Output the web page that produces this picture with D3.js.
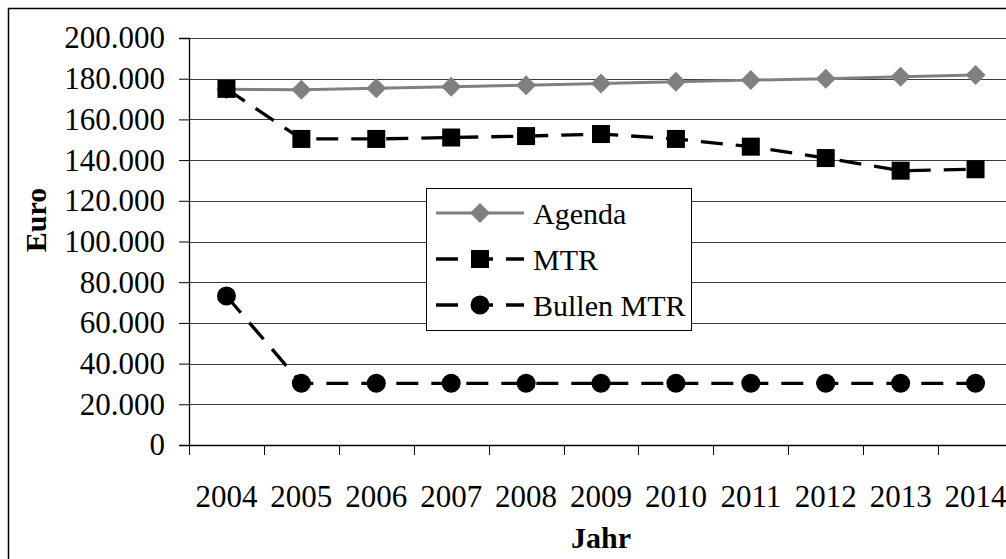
<!DOCTYPE html>
<html>
<head>
<meta charset="utf-8">
<script src="https://cdn.jsdelivr.net/npm/d3@7/dist/d3.min.js"></script>
<style>
  html, body { margin: 0; padding: 0; background: #fff; }
  svg { display: block; }
</style>
</head>
<body>
<svg id="chart" width="1006" height="559"></svg>
<script>
// Jahreswerte der drei Varianten (Euro)
const years = ["2004", "2005", "2006", "2007", "2008", "2009", "2010", "2011", "2012", "2013", "2014"];
const agenda = [174800, 174600, 175300, 176100, 176800, 177700, 178500, 179300, 180000, 181000, 181800];
const mtr = [175000, 150400, 150400, 151100, 151800, 152800, 150400, 146600, 141000, 134800, 135500];
const bullenMtr = [73200, 30300, 30300, 30300, 30300, 30300, 30300, 30300, 30300, 30300, 30300];
const yTicks = [0, 20000, 40000, 60000, 80000, 100000, 120000, 140000, 160000, 180000, 200000];

const series = [
  { name: "Agenda", values: agenda, color: "#808080", dash: null, marker: "diamond" },
  { name: "MTR", values: mtr, color: "#000", dash: "22,13", marker: "square" },
  { name: "Bullen MTR", values: bullenMtr, color: "#000", dash: "22,13", marker: "circle" }
];

const FONT = '"Liberation Serif", "Times New Roman", "DejaVu Serif", serif';

const svg = d3.select("#chart");
const plot = { left: 189, right: 1013, top: 38, bottom: 445 };

const x = d3.scaleBand().domain(years).range([plot.left, plot.right]);
const y = d3.scaleLinear().domain([0, 200000]).range([plot.bottom, plot.top]);
const de = d3.formatLocale({ decimal: ",", thousands: ".", grouping: [3], currency: ["", " €"] });
const fmt = de.format(",");
const cx = d => x(d) + x.bandwidth() / 2;

// outer chart frame (runs past the right and bottom edges of the canvas)
svg.append("rect")
  .attr("x", 8.5).attr("y", 8.5).attr("width", 1200).attr("height", 600)
  .attr("fill", "#fff").attr("stroke", "#000").attr("stroke-width", 1.5);

// horizontal gridlines
svg.append("g").selectAll("line")
  .data(yTicks.filter(v => v > 0))
  .join("line")
  .attr("x1", plot.left).attr("x2", plot.right)
  .attr("y1", d => Math.round(y(d)) + 0.5).attr("y2", d => Math.round(y(d)) + 0.5)
  .attr("stroke", "#3a3a3a").attr("stroke-width", 1);

// y axis
const yAxis = svg.append("g")
  .attr("transform", `translate(${plot.left},0)`)
  .call(d3.axisLeft(y).tickValues(yTicks).tickFormat(fmt).tickSize(10).tickPadding(14));
yAxis.attr("font-family", null);
yAxis.select(".domain").attr("stroke", "#000").attr("stroke-width", 1.3);
yAxis.selectAll(".tick line").attr("stroke", "#000");
yAxis.selectAll("text")
  .style("font-family", FONT).style("font-size", "31px").attr("fill", "#000");

// x axis: labels centred on categories, ticks on category boundaries
const xAxis = svg.append("g")
  .attr("transform", `translate(0,${plot.bottom})`)
  .call(d3.axisBottom(x).tickSize(0).tickPadding(40));
xAxis.attr("font-family", null);
xAxis.select(".domain").remove();
xAxis.selectAll("text")
  .style("font-family", FONT).style("font-size", "31px").attr("fill", "#000");
svg.append("line")
  .attr("x1", plot.left).attr("x2", plot.right)
  .attr("y1", plot.bottom + 0.5).attr("y2", plot.bottom + 0.5)
  .attr("stroke", "#000").attr("stroke-width", 1.3);
const bounds = years.map(d => x(d)).concat([x(years[years.length - 1]) + x.step()]);
svg.append("g").selectAll("line")
  .data(bounds)
  .join("line")
  .attr("x1", d => Math.round(d) + 0.5).attr("x2", d => Math.round(d) + 0.5)
  .attr("y1", plot.bottom).attr("y2", plot.bottom + 10)
  .attr("stroke", "#000").attr("stroke-width", 1);

// axis titles
svg.append("text")
  .attr("transform", "translate(46,220) rotate(-90)")
  .attr("text-anchor", "middle")
  .style("font-family", FONT).style("font-size", "30px").style("font-weight", "bold")
  .text("Euro");
svg.append("text")
  .attr("x", (plot.left + plot.right) / 2).attr("y", 548)
  .attr("text-anchor", "middle")
  .style("font-family", FONT).style("font-size", "30px").style("font-weight", "bold")
  .text("Jahr");

// markers
function drawMarker(g, type, color) {
  if (type === "diamond") {
    g.append("path").attr("d", "M0,-10L10,0L0,10L-10,0Z").attr("fill", color);
  } else if (type === "square") {
    g.append("rect").attr("x", -9).attr("y", -9).attr("width", 18).attr("height", 18).attr("fill", color);
  } else {
    g.append("circle").attr("r", 9.5).attr("fill", color);
  }
}

const line = d3.line().x((d, i) => cx(years[i])).y(d => y(d));

// draw back-to-front so MTR squares cover the grey line at 2004
[series[0], series[2], series[1]].forEach(s => {
  svg.append("path")
    .datum(s.values)
    .attr("d", line)
    .attr("fill", "none")
    .attr("stroke", s.color)
    .attr("stroke-width", s.dash ? 3.3 : 3)
    .attr("stroke-dasharray", s.dash);
  svg.append("g").selectAll("g")
    .data(s.values)
    .join("g")
    .attr("transform", (d, i) => `translate(${cx(years[i])},${y(d)})`)
    .each(function () { drawMarker(d3.select(this), s.marker, s.color); });
});

// legend
const legend = svg.append("g").attr("transform", "translate(426,188)");
legend.append("rect")
  .attr("x", 0.5).attr("y", 0.5).attr("width", 265).attr("height", 142)
  .attr("fill", "#fff").attr("stroke", "#000").attr("stroke-width", 1);
series.forEach((s, i) => {
  const row = legend.append("g").attr("transform", `translate(0,${25 + i * 46})`);
  row.append("line")
    .attr("x1", 10).attr("x2", 98)
    .attr("stroke", s.color)
    .attr("stroke-width", s.dash ? 3.3 : 3)
    .attr("stroke-dasharray", s.dash);
  drawMarker(row.append("g").attr("transform", "translate(54,0)"), s.marker, s.color);
  row.append("text")
    .attr("x", 107).attr("y", 11)
    .style("font-family", FONT).style("font-size", "30px")
    .attr("fill", "#000")
    .text(s.name);
});
</script>
</body>
</html>
